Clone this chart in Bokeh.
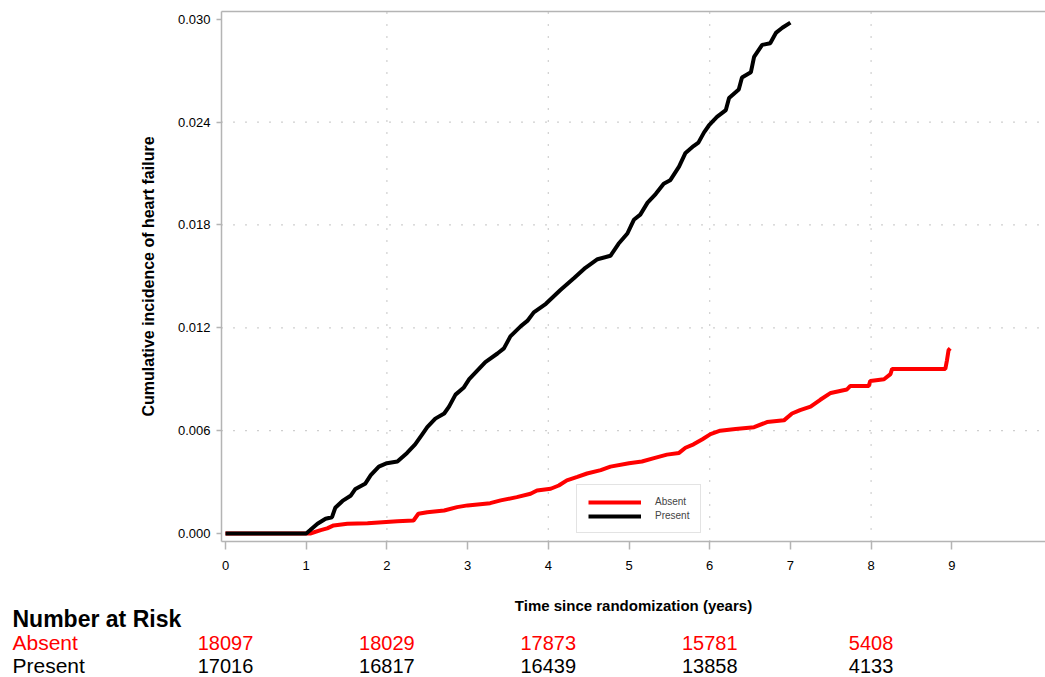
from bokeh.plotting import figure
from bokeh.models import (FixedTicker, NumeralTickFormatter, Legend,
                          LegendItem, Range1d, LinearAxis)
from bokeh.core.properties import value
from bokeh.embed import file_html
from bokeh.resources import INLINE

# Cumulative incidence of heart failure by group (years since randomization)
absent_t = [0, 1.00, 1.05, 1.18, 1.26, 1.34, 1.51, 1.76, 2.13, 2.33, 2.39, 2.50,
            2.71, 2.87, 3.00, 3.28, 3.41, 3.61, 3.78, 3.86, 4.03, 4.13, 4.23,
            4.36, 4.48, 4.65, 4.77, 5.00, 5.16, 5.31, 5.47, 5.62, 5.70, 5.80,
            5.91, 6.01, 6.13, 6.32, 6.55, 6.71, 6.92, 7.02, 7.12, 7.25, 7.37,
            7.50, 7.70, 7.74, 7.97, 7.99, 8.16, 8.24, 8.26, 8.92, 8.94, 8.96,
            8.98]
absent_ci = [0, 0, 0, 0.0002, 0.0003, 0.00047, 0.00057, 0.0006, 0.00072,
             0.00076, 0.00115, 0.00124, 0.00134, 0.00154, 0.00164, 0.00177,
             0.00193, 0.00212, 0.00232, 0.00251, 0.00261, 0.0028, 0.0031,
             0.0033, 0.0035, 0.0037, 0.0039, 0.0041, 0.0042, 0.0044, 0.0046,
             0.0047, 0.0050, 0.0052, 0.0055, 0.0058, 0.0060, 0.0061, 0.0062,
             0.0065, 0.0066, 0.0070, 0.0072, 0.0074, 0.0078, 0.0082, 0.0084,
             0.0086, 0.0086, 0.0089, 0.0090, 0.0093, 0.0096, 0.0096, 0.0101,
             0.0107, 0.0108]

present_t = [0, 1.00, 1.05, 1.14, 1.24, 1.32, 1.36, 1.45, 1.55, 1.61, 1.73,
             1.80, 1.90, 2.00, 2.13, 2.25, 2.35, 2.44, 2.50, 2.60, 2.71, 2.77,
             2.85, 2.95, 3.02, 3.12, 3.22, 3.37, 3.45, 3.53, 3.66, 3.74, 3.82,
             3.97, 4.15, 4.32, 4.46, 4.61, 4.77, 4.87, 4.98, 5.06, 5.14, 5.23,
             5.33, 5.43, 5.51, 5.62, 5.70, 5.80, 5.86, 5.93, 5.99, 6.09, 6.20,
             6.24, 6.36, 6.40, 6.51, 6.55, 6.65, 6.75, 6.82, 6.90, 7.00]
present_ci = [0, 0, 0.0002, 0.00057, 0.00086, 0.00095, 0.0015, 0.0019, 0.0022,
              0.0026, 0.0029, 0.0034, 0.0039, 0.0041, 0.0042, 0.0047, 0.0052,
              0.0058, 0.0062, 0.0067, 0.0070, 0.0074, 0.0081, 0.0085, 0.0090,
              0.0095, 0.0100, 0.0105, 0.0108, 0.0115, 0.0121, 0.0124, 0.0129,
              0.0134, 0.0142, 0.0149, 0.0155, 0.0160, 0.0162, 0.0169, 0.0175,
              0.0183, 0.0186, 0.0193, 0.0198, 0.0204, 0.0206, 0.0214, 0.0222,
              0.0226, 0.0228, 0.0234, 0.0238, 0.0243, 0.0247, 0.0254, 0.0259,
              0.0266, 0.0269, 0.0278, 0.0285, 0.0286, 0.0292, 0.0295, 0.0298]

# Number-at-risk table
risk_times = [0, 2, 4, 6, 8]
risk_absent = [18097, 18029, 17873, 15781, 5408]
risk_present = [17016, 16817, 16439, 13858, 4133]
group_names = ["Absent", "Present"]

x_ticks = [0, 1, 2, 3, 4, 5, 6, 7, 8, 9]
y_ticks = [0.000, 0.006, 0.012, 0.018, 0.024, 0.030]
x_grid = [2, 4, 6, 8]
y_grid = [0.006, 0.012, 0.018, 0.024]

FONT = "Liberation Sans"
AXIS_GREY = "#b4b4b4"
GRID_GREY = "#a0a0a0"
RED = "#ff0000"

# ---- page geometry: one canvas, the plotting box sits inside it -------------
W, H = 1045, 677
PX_PER_YEAR = 80.7           # horizontal scale of the time axis
X_ZERO_PX = 225              # canvas x of t = 0
PX_PER_UNIT = 514.3 / 0.030  # vertical scale of the incidence axis
Y_ZERO_PX = 533              # canvas y of incidence = 0


def x_at(px):
    return (px - X_ZERO_PX) / PX_PER_YEAR


def y_at(px):
    return (Y_ZERO_PX - px) / PX_PER_UNIT


# plotting box edges
X0, X1 = x_at(221), x_at(W)
Y0, Y1 = y_at(541), y_at(10.5)

p = figure(width=W, height=H, output_backend="svg", toolbar_location=None,
           x_range=Range1d(x_at(0), x_at(W)), y_range=Range1d(y_at(H), y_at(0)),
           x_axis_location=None, y_axis_location=None,
           min_border=0, min_border_left=0, min_border_right=0,
           min_border_top=0, min_border_bottom=0)
p.outline_line_color = None
p.background_fill_color = "white"
p.border_fill_color = "white"
p.grid.visible = False

# dotted reference lines inside the plotting box
p.segment(x0=x_grid, y0=[Y0] * len(x_grid), x1=x_grid, y1=[Y1] * len(x_grid),
          line_color=GRID_GREY, line_dash="1 11", line_width=1.2)
p.segment(x0=[X0] * len(y_grid), y0=y_grid, x1=[X1] * len(y_grid), y1=y_grid,
          line_color=GRID_GREY, line_dash="1 11", line_width=1.2)

# axes pinned to the edges of the plotting box
xax = LinearAxis(fixed_location=Y0, bounds=(X0, X1),
                 ticker=FixedTicker(ticks=x_ticks))
yax = LinearAxis(fixed_location=X0, bounds=(Y0, Y1),
                 ticker=FixedTicker(ticks=y_ticks),
                 formatter=NumeralTickFormatter(format="0.000"))
top_edge = LinearAxis(fixed_location=Y1, bounds=(X0, X1),
                      ticker=FixedTicker(ticks=[]))

for ax in (xax, yax, top_edge):
    ax.axis_line_color = AXIS_GREY
    ax.axis_line_width = 1.5
    ax.major_tick_line_color = AXIS_GREY
    ax.major_tick_line_width = 1.5
    ax.major_tick_in = 0
    ax.minor_tick_line_color = None
    ax.major_label_text_font = FONT
    ax.major_label_text_font_size = "13px"
    ax.major_label_text_color = "black"
    ax.axis_label_text_font = FONT
    ax.axis_label_text_font_style = "bold"
    ax.axis_label_text_color = "black"

xax.major_tick_out = 8
xax.major_label_standoff = 11
xax.axis_label = "Time since randomization (years)"
xax.axis_label_text_font_size = "15px"
xax.axis_label_standoff = 24

yax.major_tick_out = 5
yax.major_label_standoff = 6
yax.axis_label = "Cumulative incidence of heart failure"
yax.axis_label_text_font_size = "16px"
yax.axis_label_standoff = 18

p.add_layout(xax, "below")
p.add_layout(yax, "left")
p.add_layout(top_edge, "above")

# curves
r_abs = p.line(absent_t, absent_ci, line_color=RED, line_width=4)
r_pres = p.line(present_t, present_ci, line_color="black", line_width=4)

legend = Legend(items=[LegendItem(label=group_names[0], renderers=[r_abs]),
                       LegendItem(label=group_names[1], renderers=[r_pres])],
                location=(576, H - 533), orientation="vertical")
legend.label_text_font = FONT
legend.label_text_font_size = "10px"
legend.label_height = 10
legend.glyph_height = 10
legend.glyph_width = 53
legend.label_standoff = 14
legend.spacing = 3
legend.padding = 11
legend.margin = 0
legend.border_line_color = "#c8c8c8"
legend.border_line_width = 1
legend.background_fill_alpha = 1
p.add_layout(legend)

# ---- number-at-risk table under the time axis ------------------------------
label_x = x_at(12)
p.text(x=[label_x], y=[y_at(618)], text=["Number at Risk"],
       text_font=value(FONT), text_font_size="23px", text_font_style="bold",
       text_color="black", text_align="left", text_baseline="middle")

for name, counts, color, mid in ((group_names[0], risk_absent, RED, 642),
                                 (group_names[1], risk_present, "black", 665)):
    p.text(x=[label_x], y=[y_at(mid)], text=[name], text_font=value(FONT),
           text_font_size="21px", text_color=color, text_align="left",
           text_baseline="middle")
    p.text(x=risk_times, y=[y_at(mid)] * len(risk_times),
           text=[str(n) for n in counts], text_font=value(FONT),
           text_font_size="20px", text_color=color, text_align="center",
           text_baseline="middle")

open("out.html", "w").write(file_html(p, INLINE))
